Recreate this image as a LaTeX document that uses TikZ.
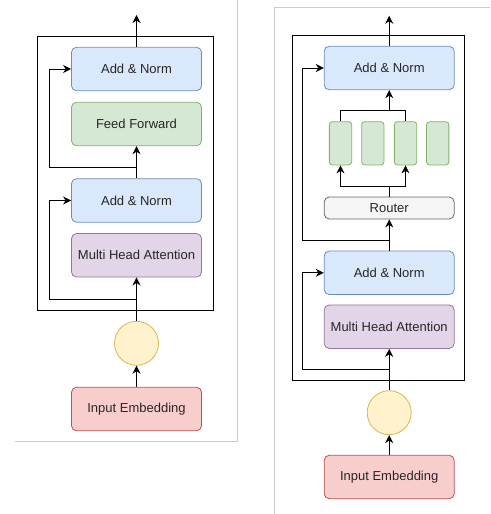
\documentclass[tikz,border=0pt]{standalone}
\usepackage{fontspec}
\setmainfont{Liberation Sans}
\usetikzlibrary{arrows.meta}
\definecolor{blueF}{HTML}{DAE8FC}\definecolor{blueD}{HTML}{6C8EBF}
\definecolor{greenF}{HTML}{D5E8D4}\definecolor{greenD}{HTML}{82B366}
\definecolor{purpleF}{HTML}{E1D5E7}\definecolor{purpleD}{HTML}{9673A6}
\definecolor{yellowF}{HTML}{FFF2CC}\definecolor{yellowD}{HTML}{D6B656}
\definecolor{redF}{HTML}{F8CECC}\definecolor{redD}{HTML}{B85450}
\definecolor{grayF}{HTML}{F5F5F5}\definecolor{grayD}{HTML}{666666}
\tikzset{
	block/.style={draw, line width=0.8pt, rounded corners=5pt, minimum width=130pt, minimum height=43.5pt, inner sep=0pt, text=black!85, font=\fontsize{13}{15}\selectfont},
	addnorm/.style={block, fill=blueF, draw=blueD},
	ffn/.style={block, fill=greenF, draw=greenD},
	mha/.style={block, fill=purpleF, draw=purpleD},
	embed/.style={block, fill=redF, draw=redD},
	router/.style={block, fill=grayF, draw=grayD, minimum height=22pt},
	expert/.style={draw=greenD, fill=greenF, line width=0.8pt, rounded corners=3pt, minimum width=22.3pt, minimum height=43.3pt, inner sep=0pt},
	posenc/.style={circle, draw=yellowD, fill=yellowF, line width=0.8pt, minimum size=44pt, inner sep=0pt},
	arr/.style={line width=1pt, -{Stealth[length=8pt, width=8pt, inset=2.5pt]}},
	wire/.style={line width=1pt},
	frame/.style={draw=black!20, line width=1pt}
}
\begin{document}
\begin{tikzpicture}[x=1pt, y=-1pt]
	\useasboundingbox (0,0) rectangle (490,514);
	% left: dense block
	\draw[frame] (237.7,0) -- (237.7,441.7) -- (15,441.7);
	\draw[wire] (37.7,36) rectangle (213.3,310.3);
	\node[addnorm] (lan2) at (136.5,69) {Add \& Norm};
	\node[ffn] (lff) at (136.5,124) {Feed Forward};
	\node[addnorm] (lan1) at (136.5,200.5) {Add \& Norm};
	\node[mha] (lmha) at (136.5,255.3) {Multi Head Attention};
	\node[posenc] (lpe) at (136.5,343.3) {};
	\node[embed] (lemb) at (136.5,409) {Input Embedding};
	\coordinate (lout) at (136.5,15);
	\coordinate (lr1) at (136.5,299.3);
	\coordinate (lr2) at (136.5,167.7);
	\draw[arr] (lan2.north) -- (lout);
	\draw[arr] (lemb.north) -- (lpe.south);
	\draw[arr] (lpe.north) -- (lmha.south);
	\draw[arr] (lr1) -- ++(-87.5,0) |- (lan1.west);
	\draw[arr] (lan1.north) -- (lff.south);
	\draw[arr] (lr2) -- ++(-87.5,0) |- (lan2.west);
	% right: mixture of experts
	\draw[frame] (274.3,514) -- (274.3,7) -- (490,7);
	\draw[wire] (292,35.3) rectangle (464.7,380.3);
	\node[addnorm] (ran2) at (389.2,68) {Add \& Norm};
	\node[expert] (e1) at (340.5,143.3) {};
	\node[expert] (e2) at (372.8,143.3) {};
	\node[expert] (e3) at (405.5,143.3) {};
	\node[expert] (e4) at (437.7,143.3) {};
	\node[router] (rrouter) at (389.2,208) {Router};
	\node[addnorm] (ran1) at (389.2,272.8) {Add \& Norm};
	\node[mha] (rmha) at (389.2,326.7) {Multi Head Attention};
	\node[posenc] (rpe) at (389.2,412.7) {};
	\node[embed] (remb) at (389.2,477) {Input Embedding};
	\coordinate (rout) at (389.2,15.7);
	\coordinate (rmerge) at (389.2,110.7);
	\coordinate (rsplit) at (389.2,186.7);
	\coordinate (rr2) at (389.2,240);
	\coordinate (rr1) at (389.2,369);
	\draw[arr] (ran2.north) -- (rout);
	\draw[wire] (e1.north) -- (e1.north |- rmerge) -- (e3.north |- rmerge) -- (e3.north);
	\draw[arr] (rmerge) -- (ran2.south);
	\draw[wire] (rrouter.north) -- (rsplit);
	\draw[arr] (rsplit) -| (e1.south);
	\draw[arr] (rsplit) -| (e3.south);
	\draw[arr] (ran1.north) -- (rrouter.south);
	\draw[arr] (rr2) -- ++(-86.5,0) |- (ran2.west);
	\draw[arr] (remb.north) -- (rpe.south);
	\draw[arr] (rpe.north) -- (rmha.south);
	\draw[arr] (rr1) -- ++(-86.5,0) |- (ran1.west);
\end{tikzpicture}
\end{document}
